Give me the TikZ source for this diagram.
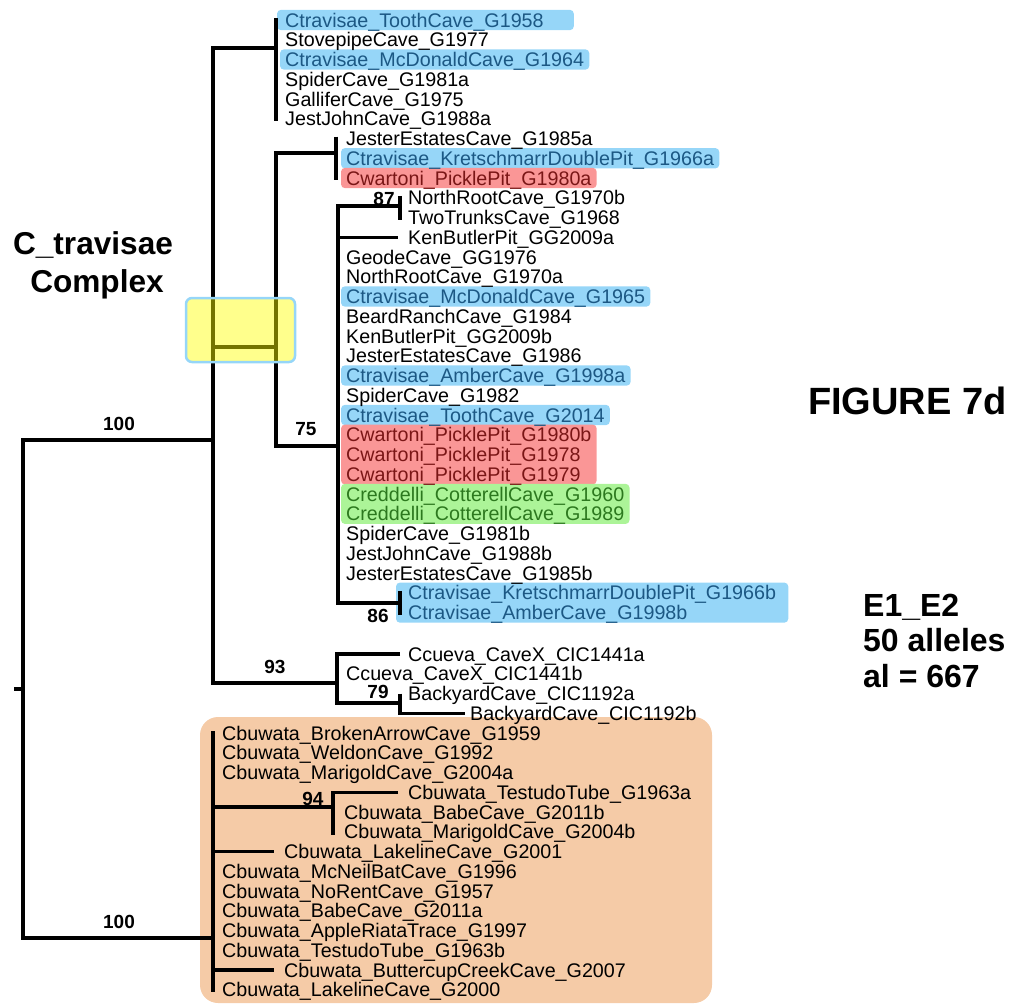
\documentclass[tikz,border=0pt]{standalone}
\usepackage{fontspec}
\setmainfont{Liberation Sans}
\usetikzlibrary{positioning,fit,backgrounds,calc}

\definecolor{hlblue}{RGB}{150,214,248}
\definecolor{hlred}{RGB}{250,150,150}
\definecolor{hlgreen}{RGB}{172,244,152}
\definecolor{hlpeach}{RGB}{245,203,167}
\definecolor{hlyellow}{RGB}{255,255,0}
\definecolor{tblue}{RGB}{28,88,132}
\definecolor{tred}{RGB}{122,22,22}
\definecolor{tgreen}{RGB}{44,120,30}

\begin{document}
\begin{tikzpicture}[
    x=1pt, y=-1pt,
    leaf/.style={anchor=base west,inner sep=0pt,text height=14pt,text depth=0pt,
                 font=\fontsize{19.7}{20}\selectfont},
    branch/.style={line width=3.3pt},
    poly/.style={branch,shorten <=-2pt,shorten >=-2pt},
    boot/.style={anchor=base,inner sep=0pt,font=\fontsize{19}{19}\selectfont\bfseries},
    grp/.style={anchor=base,inner sep=0pt,font=\fontsize{31.6}{32}\selectfont\bfseries},
    note/.style={anchor=base west,inner sep=0pt,font=\fontsize{32}{32}\selectfont\bfseries},
    hl/.style={rounded corners=4pt,inner xsep=5pt,inner ysep=3pt},
    hlb/.style={hl,fill=hlblue},
    hlr/.style={hl,fill=hlred},
    hlg/.style={hl,fill=hlgreen}
]
\useasboundingbox (0,0) rectangle (1021,1005);

% leaves: name / row / x / colour / label
\foreach \n/\i/\x/\c/\t in {
    t1/0/285/tblue/Ctravisae\_ToothCave\_G1958,
    t2/1/285/black/StovepipeCave\_G1977,
    t3/2/285/tblue/Ctravisae\_McDonaldCave\_G1964,
    t4/3/285/black/SpiderCave\_G1981a,
    t5/4/285/black/GalliferCave\_G1975,
    t6/5/285/black/JestJohnCave\_G1988a,
    k1/6/346/black/JesterEstatesCave\_G1985a,
    k2/7/346/tblue/Ctravisae\_KretschmarrDoublePit\_G1966a,
    k3/8/346/tred/Cwartoni\_PicklePit\_G1980a,
    p1/9/408/black/NorthRootCave\_G1970b,
    p2/10/408/black/TwoTrunksCave\_G1968,
    p3/11/408/black/KenButlerPit\_GG2009a,
    p4/12/346/black/GeodeCave\_GG1976,
    p5/13/346/black/NorthRootCave\_G1970a,
    p6/14/346/tblue/Ctravisae\_McDonaldCave\_G1965,
    p7/15/346/black/BeardRanchCave\_G1984,
    p8/16/346/black/KenButlerPit\_GG2009b,
    p9/17/346/black/JesterEstatesCave\_G1986,
    p10/18/346/tblue/Ctravisae\_AmberCave\_G1998a,
    p11/19/346/black/SpiderCave\_G1982,
    p12/20/346/tblue/Ctravisae\_ToothCave\_G2014,
    p13/21/346/tred/Cwartoni\_PicklePit\_G1980b,
    p14/22/346/tred/Cwartoni\_PicklePit\_G1978,
    p15/23/346/tred/Cwartoni\_PicklePit\_G1979,
    p16/24/346/tgreen/Creddelli\_CotterellCave\_G1960,
    p17/25/346/tgreen/Creddelli\_CotterellCave\_G1989,
    p18/26/346/black/SpiderCave\_G1981b,
    p19/27/346/black/JestJohnCave\_G1988b,
    p20/28/346/black/JesterEstatesCave\_G1985b,
    p21/29/408/tblue/Ctravisae\_KretschmarrDoublePit\_G1966b,
    p22/30/408/tblue/Ctravisae\_AmberCave\_G1998b,
    c1/31/408/black/Ccueva\_CaveX\_CIC1441a,
    c2/32/346/black/Ccueva\_CaveX\_CIC1441b,
    c3/33/408/black/BackyardCave\_CIC1192a,
    c4/34/470/black/BackyardCave\_CIC1192b,
    b1/35/222/black/Cbuwata\_BrokenArrowCave\_G1959,
    b2/36/222/black/Cbuwata\_WeldonCave\_G1992,
    b3/37/222/black/Cbuwata\_MarigoldCave\_G2004a,
    b4/38/408/black/Cbuwata\_TestudoTube\_G1963a,
    b5/39/344/black/Cbuwata\_BabeCave\_G2011b,
    b6/40/344/black/Cbuwata\_MarigoldCave\_G2004b,
    b7/41/284/black/Cbuwata\_LakelineCave\_G2001,
    b8/42/222/black/Cbuwata\_McNeilBatCave\_G1996,
    b9/43/222/black/Cbuwata\_NoRentCave\_G1957,
    b10/44/222/black/Cbuwata\_BabeCave\_G2011a,
    b11/45/222/black/Cbuwata\_AppleRiataTrace\_G1997,
    b12/46/222/black/Cbuwata\_TestudoTube\_G1963b,
    b13/47/284/black/Cbuwata\_ButtercupCreekCave\_G2007,
    b14/48/222/black/Cbuwata\_LakelineCave\_G2000}
{
    \pgfmathsetmacro\yy{27+19.75*\i+21.75*(\i>30)}
    \node[leaf,text=\c] (\n) at (\x,\yy) {\t};
}

% internal nodes
\coordinate (rootL) at (14,689);
\coordinate (root)  at (23,689);
\coordinate (cx)    at (213,440);
\coordinate (cb)    at (213,938);
\coordinate (ta)    at (276,48);
\coordinate (tm)    at (276,347);
\coordinate (kr)    at (336,153);
\coordinate (bp)    at (338,446);
\coordinate (n87)   at (400,206);
\coordinate (n86)   at (400,603);
\coordinate (cc)    at (337,683);
\coordinate (n79)   at (400,703);
\coordinate (n94)   at (333,807);

% branches
\draw[branch] (rootL) -- (root);
\draw[branch] (cx) -| (root) |- (cb);
\draw[branch] (ta) -| (cx) |- (cc);
\draw[branch] (cx |- tm) -- (tm);
\draw[poly]   (ta |- t1) -- (ta |- t6);
\draw[branch] (kr) -| (tm) |- (bp);
\draw[poly]   (kr |- k1) -- (kr |- k3);
\draw[branch] (n87) -| (bp) |- (n86);
\draw[poly]   (n87 |- p1) -- (n87 |- p2);
\draw[branch] (bp |- p3) -- ([xshift=-10pt]p3.west);
\draw[poly]   (n86 |- p21) -- (n86 |- p22);
\draw[branch] ([xshift=-8pt]c1.west) -| (cc) |- (n79);
\draw[branch] (n79 |- c3) -- (n79) |- ([xshift=-5pt]c4.west);
\draw[poly]   (cb |- b1) -- (cb |- b14);
\draw[branch] (cb |- n94) -- (n94);
\draw[branch] ([xshift=-10pt]b4.west) -| ([yshift=-3pt]n94 |- b6);
\draw[branch] (cb |- b7) -- ([xshift=-10pt]b7.west);
\draw[branch] (cb |- b13) -- ([xshift=-10pt]b13.west);

% bootstrap values
\node[boot] (bs100a) at (119,430) {100};
\node[boot] (bs75)   at (306,435) {75};
\node[boot] (bs87)   at (384,205) {87};
\node[boot] (bs86)   at (378,622) {86};
\node[boot] (bs93)   at (275,673) {93};
\node[boot] (bs79)   at (378,698) {79};
\node[boot] (bs94)   at (313,805) {94};
\node[boot] (bs100b) at (119,928) {100};

% group and figure labels
\node[grp] (ctA) at (93,254) {C\_travisae};
\node[grp] (ctB) at (97,292) {Complex};
\node[anchor=base west,inner sep=0pt,font=\fontsize{38}{38}\selectfont\bfseries] (fig) at (808,414) {FIGURE 7d};
\node[note] (e1) at (863,616) {E1\_E2};
\node[note] (e2) at (863,651) {50 alleles};
\node[note] (e3) at (863,687) {al = 667};

% highlights
\begin{scope}[on background layer]
\fill[hlpeach,rounded corners=18pt] (200,717) rectangle (712,1003);
\coordinate (t1x) at ($(t1.east)+(22,0)$);
\node[hlb,inner xsep=8pt,fit=(t1)(t1x)] (h1) {};
\node[hlb,fit=(t3)] (h2) {};
\node[hlb,fit=(k2)] (h3) {};
\node[hlr,fit=(k3)] (h4) {};
\node[hlb,fit=(p6)] (h5) {};
\node[hlb,fit=(p10)] (h6) {};
\node[hlb,fit=(p12)] (h7) {};
\node[hlr,fit=(p13)(p15)] (h8) {};
\node[hlg,fit=(p16)(p17)] (h9) {};
\node[hlb,inner xsep=12pt,fit=(p21)(p22)] (h10) {};
\end{scope}

% yellow marker over the split
\draw[draw=hlblue,line width=2.5pt,fill=hlyellow,fill opacity=0.45,rounded corners=6pt]
    (186,298) rectangle (295,362);

\end{tikzpicture}
\end{document}
